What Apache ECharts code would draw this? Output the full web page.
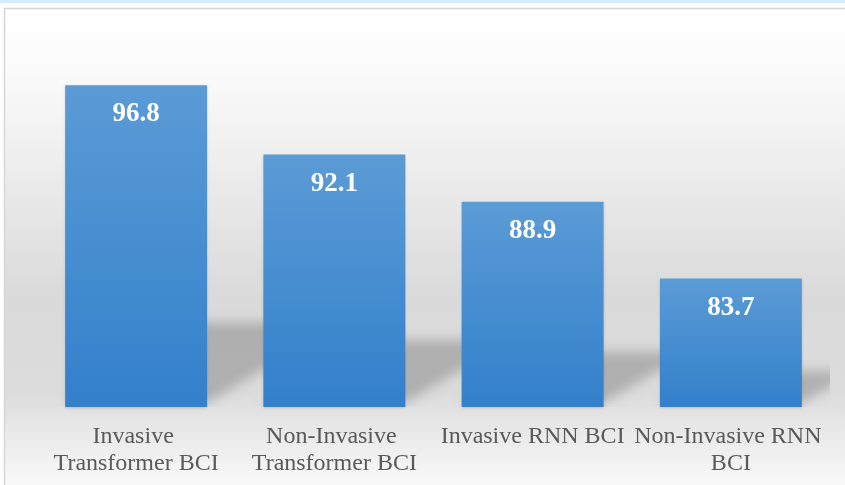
<!DOCTYPE html>
<html>
<head>
<meta charset="utf-8">
<script src="https://cdn.jsdelivr.net/npm/echarts@6/dist/echarts.min.js"></script>
<style>
  html, body { margin: 0; padding: 0; background: #ffffff; }
  #myChart { width: 845px; height: 485px; }
</style>
</head>
<body>
<div id="myChart"></div>
<script>
// 数据
var categories = ['Invasive Transformer BCI', 'Non-Invasive Transformer BCI', 'Invasive RNN BCI', 'Non-Invasive RNN BCI']
var accuracy = [96.8, 92.1, 88.9, 83.7]
var axisMin = 75
var axisMax = 100

var myChart = echarts.init(document.getElementById('myChart'))

// 柱子后面的斜向阴影
function renderShadow (params, api) {
  var idx = api.value(0)
  var base = api.coord([idx, axisMin])
  var top = api.coord([idx, api.value(1)])
  var half = api.size([1, 0])[0] * 0.358
  var h = base[1] - top[1]
  var sh = h * 0.25
  var dx = sh * 1.7
  var x0 = base[0] - half
  var x1 = base[0] + half
  var y = base[1] - 4
  var off = 3000
  return {
    type: 'polygon',
    shape: {
      points: [[x0 - off, y], [x1 - off, y], [x1 + dx - off, y - sh], [x0 + dx - off, y - sh]]
    },
    style: {
      fill: '#000',
      shadowColor: 'rgba(0,0,0,0.2)',
      shadowBlur: 12,
      shadowOffsetX: off,
      shadowOffsetY: 0
    }
  }
}

var option = {
  animation: false,
  graphic: [
    { type: 'rect', z: -10, shape: { x: 0, y: 0, width: 845, height: 3 }, style: { fill: '#d3ecf9' } },
    {
      type: 'rect',
      z: -10,
      shape: { x: 4.5, y: 8.5, width: 845, height: 480 },
      style: {
        stroke: '#d6d6d6',
        lineWidth: 1.5,
        fill: new echarts.graphic.LinearGradient(0, 0, 0, 1, [
          { offset: 0, color: '#ffffff' },
          { offset: 0.13, color: '#fbfbfb' },
          { offset: 0.43, color: '#e6e6e6' },
          { offset: 0.6, color: '#dadada' },
          { offset: 0.8, color: '#dcdcdc' },
          { offset: 0.88, color: '#e9e9e9' },
          { offset: 1, color: '#fafafa' }
        ])
      }
    }
  ],
  grid: { left: 37, right: 15, top: 38, bottom: 78 },
  xAxis: {
    type: 'category',
    data: categories,
    axisLine: { show: false },
    axisTick: { show: false },
    axisLabel: {
      interval: 0,
      margin: 16,
      color: '#595959',
      fontFamily: 'Liberation Serif',
      fontSize: 24,
      lineHeight: 27,
      width: 196,
      overflow: 'break'
    }
  },
  yAxis: {
    type: 'value',
    min: axisMin,
    max: axisMax,
    show: false,
    splitLine: { show: false }
  },
  series: [
    {
      type: 'custom',
      renderItem: renderShadow,
      clip: true,
      z: 1,
      silent: true,
      data: accuracy.map(function (v, i) { return [i, v] })
    },
    {
      type: 'bar',
      z: 3,
      barWidth: '71.6%',
      data: accuracy,
      itemStyle: {
        color: new echarts.graphic.LinearGradient(0, 0, 0, 1, [
          { offset: 0, color: '#5b9bd6' },
          { offset: 1, color: '#3380cb' }
        ]),
        shadowColor: 'rgba(0,0,0,0.18)',
        shadowBlur: 3,
        shadowOffsetY: 1
      },
      label: {
        show: true,
        position: 'insideTop',
        distance: 14,
        color: '#ffffff',
        fontFamily: 'Liberation Serif',
        fontWeight: 'bold',
        fontSize: 27,
        lineHeight: 30
      }
    }
  ]
}

myChart.setOption(option)
</script>
</body>
</html>
